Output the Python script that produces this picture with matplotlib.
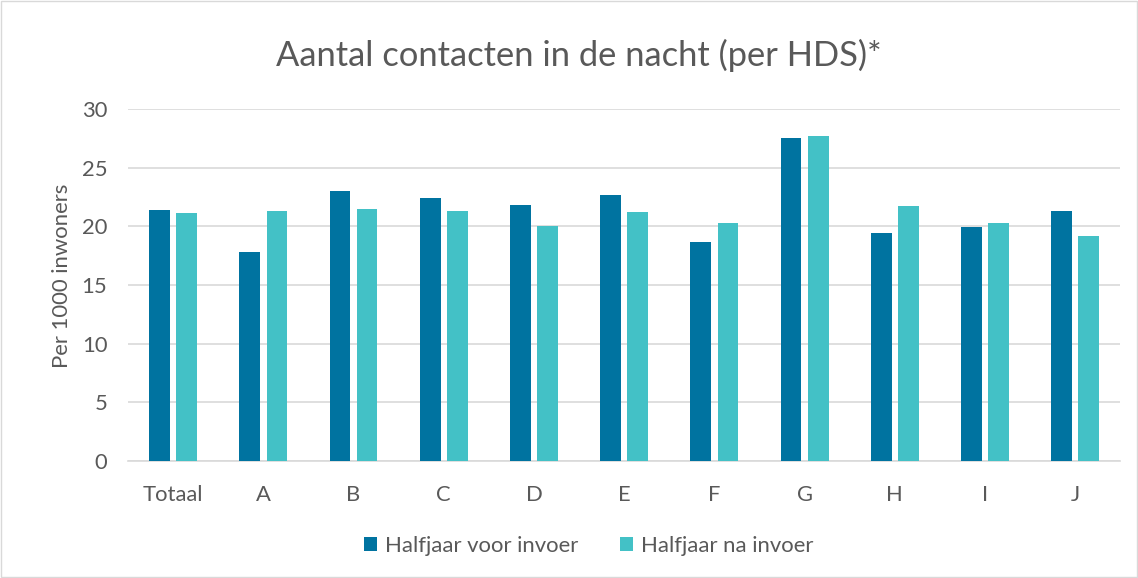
import matplotlib
matplotlib.use("Agg")
import matplotlib.pyplot as plt
import numpy as np
from matplotlib.patches import Rectangle

categories = ["Totaal", "A", "B", "C", "D", "E", "F", "G", "H", "I", "J"]
voor = [21.4, 17.8, 23.0, 22.4, 21.85, 22.65, 18.7, 27.55, 19.4, 19.95, 21.3]
na = [21.1, 21.35, 21.5, 21.3, 20.0, 21.25, 20.25, 27.7, 21.7, 20.25, 19.15]
series_names = ["Halfjaar voor invoer", "Halfjaar na invoer"]
colors = ["#0073A0", "#43C1C6"]
yticks = [0, 5, 10, 15, 20, 25, 30]

plt.rcParams['font.family'] = ['Lato', 'DejaVu Sans']
txt = "#595959"

fig = plt.figure(figsize=(11.38, 5.78), dpi=100)
fig.patches.append(Rectangle((0.001, 0.001), 0.998, 0.997, transform=fig.transFigure,
                             fill=False, edgecolor="#D9D9D9", linewidth=1))
ax = fig.add_axes([0.1125, 0.2024, 0.872, 0.609])
x = np.arange(len(categories))
w = 0.23
off = 0.15
ax.bar(x - off, voor, w, color=colors[0], label=series_names[0], zorder=3)
ax.bar(x + off, na, w, color=colors[1], label=series_names[1], zorder=3)
ax.set_xlim(-0.5, len(categories) - 0.5)
ax.set_ylim(0, 30)
ax.set_yticks(yticks)
ax.yaxis.grid(True, color="#D9D9D9", linewidth=1.2, zorder=0)
ax.set_xticks(x)
ax.set_xticklabels(categories)
ax.tick_params(axis='both', length=0, labelsize=15.8, colors=txt)
ax.tick_params(axis='x', pad=17)
ax.tick_params(axis='y', pad=15)
for s in ["top", "right", "left"]:
    ax.spines[s].set_visible(False)
ax.spines["bottom"].set_color("#D9D9D9")
ax.spines["bottom"].set_linewidth(1.2)
ax.set_ylabel("Per 1000 inwoners", fontsize=15.9, color=txt, va="center")
ax.yaxis.set_label_coords(-0.0661, 0.526)
fig.text(0.509, 0.904, "Aantal contacten in de nacht (per HDS)*", ha="center", va="center",
         fontsize=24.8, color=txt)
leg = fig.legend(loc="center", bbox_to_anchor=(0.517, 0.056), ncol=2, frameon=False,
                 fontsize=15.9, handlelength=0.6, handleheight=0.6, columnspacing=1.9,
                 handletextpad=0.35)
for t in leg.get_texts():
    t.set_color(txt)
fig.savefig("out.png", dpi=100)
